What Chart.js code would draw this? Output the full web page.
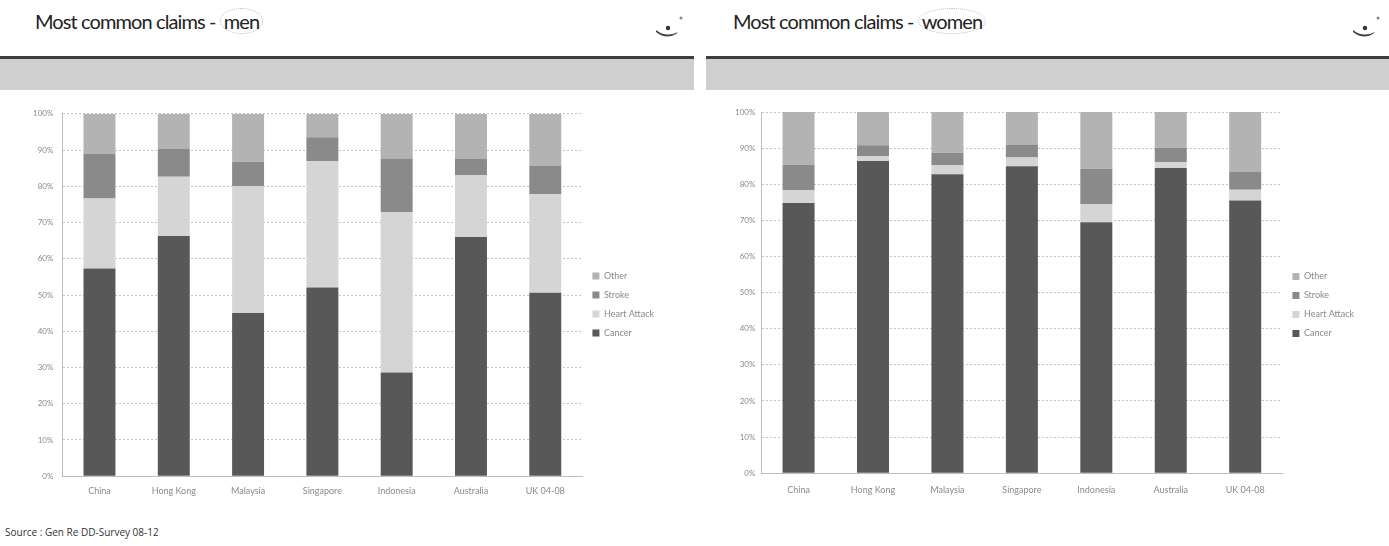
<!DOCTYPE html>
<html>
<head>
<meta charset="utf-8">
<script src="https://cdn.jsdelivr.net/npm/chart.js@4.4.1/dist/chart.umd.min.js"></script>
<style>
  html, body { margin:0; padding:0; background:#fff; }
  body { width:1389px; height:546px; position:relative; overflow:hidden; font-family: Lato, "Open Sans", sans-serif; }
  .title { position:absolute; top:9px; font-size:20px; color:#222; font-family: Lato, sans-serif; letter-spacing:-0.9px; }
  .hl { border:1px dotted #bbb; border-radius:50%; padding:0 3px; }
  .rule { position:absolute; top:56px; height:3px; background:#3e3e3e; }
  .band { position:absolute; top:59px; height:31px; background:#cfcfcf; }
  .logo { position:absolute; top:12px; }
  .box { position:absolute; top:100px; }
  .src { position:absolute; left:5px; top:525px; font-size:10px; color:#333; font-family: "Open Sans", sans-serif; }
</style>
</head>
<body>
<div class="title" style="left:35px">Most common claims - <span class="hl">men</span></div>
<div class="title" style="left:733px">Most common claims - <span class="hl">women</span></div>
<svg class="logo" style="left:652px" width="40" height="30" viewBox="0 0 40 30"><path d="M4 18 Q14 26 26 20 L24 22 Q14 28 4 20 Z" fill="#444"/><circle cx="16" cy="16" r="2.2" fill="#333"/><circle cx="29" cy="6" r="1.5" fill="#888"/></svg>
<svg class="logo" style="left:1349px" width="40" height="30" viewBox="0 0 40 30"><path d="M4 18 Q14 26 26 20 L24 22 Q14 28 4 20 Z" fill="#444"/><circle cx="16" cy="16" r="2.2" fill="#333"/><circle cx="29" cy="6" r="1.5" fill="#888"/></svg>
<div class="rule" style="left:0;width:694px"></div>
<div class="band" style="left:0;width:694px"></div>
<div class="rule" style="left:706px;width:683px"></div>
<div class="band" style="left:706px;width:683px"></div>
<div class="box" style="left:0;width:690px;height:399px"><canvas id="men"></canvas></div>
<div class="box" style="left:690px;width:699px;height:400px"><canvas id="women"></canvas></div>
<div class="src">Source : Gen Re DD-Survey 08-12</div>
<script>
const categories = ["China", "Hong Kong", "Malaysia", "Singapore", "Indonesia", "Australia", "UK 04-08"];
const seriesNames = ["Cancer", "Heart Attack", "Stroke", "Other"];
const yTicks = [0, 10, 20, 30, 40, 50, 60, 70, 80, 90, 100];

// Men (% of claims)
const menCancer      = [57.3, 66.3, 45.0, 52.1, 28.6, 66.0, 50.6];
const menHeartAttack = [19.3, 16.3, 35.0, 34.9, 44.3, 17.1, 27.2];
const menStroke      = [12.3,  7.7,  6.8,  6.5, 14.8,  4.4,  7.9];
const menOther       = [11.1,  9.7, 13.2,  6.5, 12.3, 12.5, 14.3];

// Women (% of claims)
const womenCancer      = [74.8, 86.4, 82.8, 85.0, 69.5, 84.5, 75.5];
const womenHeartAttack = [ 3.6,  1.4,  2.5,  2.4,  5.0,  1.6,  3.0];
const womenStroke      = [ 7.0,  3.0,  3.4,  3.6,  9.8,  4.0,  5.0];
const womenOther       = [14.6,  9.2, 11.3,  9.0, 15.7,  9.9, 16.5];

const colors = ["#585858", "#d5d5d5", "#8a8a8a", "#b3b3b3"];

function build(id, series, opts) {
  const datasets = series.map((d, i) => ({
    label: seriesNames[i], data: d, backgroundColor: colors[i],
    barPercentage: 0.43, categoryPercentage: 1.0, borderWidth: 0
  }));
  return new Chart(document.getElementById(id), {
    type: "bar",
    data: { labels: categories, datasets },
    options: {
      responsive: true, maintainAspectRatio: false, animation: false,
      layout: { padding: { left: opts.padLeft, top: 12, right: opts.padRight, bottom: 2 } },
      plugins: {
        tooltip: { enabled: false },
        legend: {
          position: "right", reverse: true, align: "center",
          labels: { boxWidth: 7, boxHeight: 7, padding: 10, color: "#8a8a8a", font: { size: 9, family: "Lato" } }
        }
      },
      scales: {
        x: {
          stacked: true,
          grid: { display: false },
          border: { color: "#bdbdbd", dash: [2, 2] },
          ticks: { color: "#8a8a8a", font: { size: 9, family: "Lato" }, padding: opts.xPad }
        },
        y: {
          stacked: true, min: 0, max: 100,
          afterBuildTicks: (s) => { s.ticks = yTicks.map(v => ({ value: v })); },
          grid: { color: "#c4c4c4", drawTicks: false },
          border: { color: "#bdbdbd", dash: [2, 2] },
          ticks: { color: "#8a8a8a", font: { size: 8, family: "Lato" }, padding: opts.tickPad, callback: v => v + "%" }
        }
      }
    }
  });
}
build("men", [menCancer, menHeartAttack, menStroke, menOther], { padLeft: 24, padRight: 26, tickPad: 9, xPad: 1 });
build("women", [womenCancer, womenHeartAttack, womenStroke, womenOther], { padLeft: 39, padRight: 25, tickPad: 6, xPad: 3 });
</script>
</body>
</html>
